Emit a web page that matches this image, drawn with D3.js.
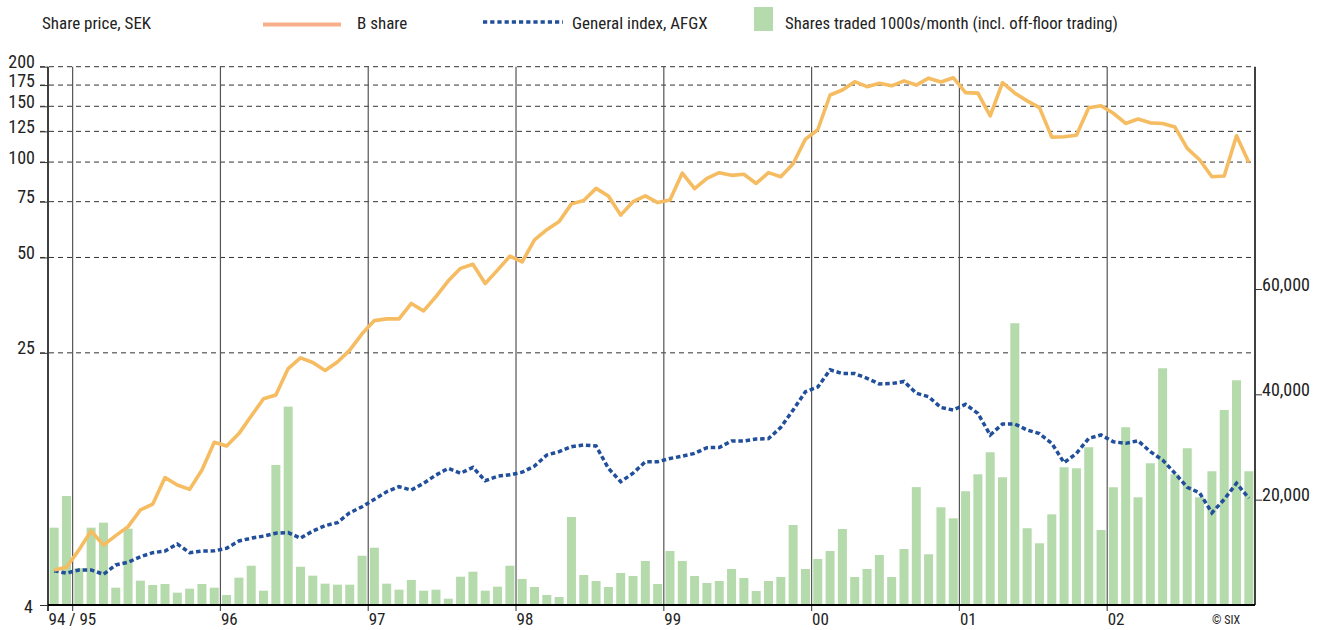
<!DOCTYPE html>
<html>
<head>
<meta charset="utf-8">
<script src="https://cdn.jsdelivr.net/npm/d3@7/dist/d3.min.js"></script>
<style>
  html, body { margin: 0; padding: 0; background: #fff; }
  svg { display: block; }
  text { font-family: "Liberation Sans Narrow", "Arial Narrow", "Roboto Condensed", "Liberation Sans", Arial, sans-serif; fill: #222; }
</style>
</head>
<body>
<svg id="chart" width="1325" height="630"></svg>
<script>
// ---------------- DATA ----------------
// Monthly observations, Nov 1994 .. Dec 2002
const firstMonth = new Date(1994, 10, 1);
const months = d3.timeMonths(firstMonth, new Date(2003, 0, 1));

// B share price, SEK (left log axis)
const bShare = [
  5.16, 5.26, 5.96, 6.85, 6.18, 6.62, 7.07, 7.98, 8.32, 10.1, 9.57, 9.27, 10.67, 13.05,
  12.7, 13.9, 15.8, 17.9, 18.4, 22.3, 24.1, 23.3, 22.0, 23.4, 25.5, 28.7,
  31.6, 32.0, 32.0, 35.8, 33.9, 37.6, 42.2, 46.2, 47.6, 41.4, 45.6, 50.5,
  48.4, 56.8, 61.2, 64.9, 73.8, 75.6, 82.6, 78.2, 68.0, 75.0, 78.2, 74.5,
  75.9, 92.3, 82.4, 88.9, 92.6, 90.8, 91.5, 85.6, 92.6, 89.9, 98.8, 118.2,
  126.5, 162.8, 168.8, 179.4, 173, 177.3, 174, 180.4, 175, 184, 179, 184.6,
  165.6, 165, 139.8, 178, 165, 156, 148.5, 119.9, 120.2, 121.6, 148.5, 150.6,
  142.6, 132.4, 136.8, 133, 132.4, 129, 110.5, 101.7, 89.9, 90.4, 121.1, 99.7
];

// General index, AFGX (rebased to the share price, left log axis)
const afgx = [
  5.13, 5.04, 5.16, 5.16, 5.0, 5.35, 5.46, 5.68, 5.85, 5.92, 6.23, 5.85, 5.92, 5.93,
  6.04, 6.37, 6.5, 6.6, 6.74, 6.77, 6.5, 6.85, 7.12, 7.28, 7.82, 8.17,
  8.62, 9.11, 9.45, 9.22, 9.69, 10.29, 10.8, 10.42, 10.88, 9.87, 10.2, 10.3,
  10.5, 10.98, 11.9, 12.19, 12.64, 12.8, 12.7, 10.8, 9.8, 10.42, 11.33, 11.33,
  11.6, 11.8, 12.04, 12.55, 12.57, 13.17, 13.17, 13.36, 13.4, 14.55, 16.5, 18.85,
  19.5, 22.1, 21.5, 21.5, 20.77, 19.94, 20.0, 20.3, 18.65, 18.17, 16.8, 16.5,
  17.2, 16.1, 13.76, 14.9, 14.9, 14.27, 13.9, 12.95, 11.25, 12.04, 13.43, 13.76,
  13.1, 12.95, 13.2, 12.19, 11.47, 10.42, 9.41, 9.04, 7.82, 8.62, 9.69, 8.69
];

// Shares traded, 1000s/month (right linear axis)
const traded = [
  14680, 20700, 6970, 14680, 15630, 3290, 14490, 4620, 3800, 3990, 2340, 3100, 3990, 3290,
  1900, 5190, 7460, 2720, 26590, 37660, 7270, 5570, 4050, 3860, 3860, 9360,
  10880, 4050, 2910, 4750, 2720, 2910, 1200, 5370, 6320, 2720, 3480, 7460,
  4940, 3420, 1900, 1520, 16710, 5700, 4560, 3420, 6080, 5510, 8360, 3990,
  10250, 8360, 5510, 4180, 4560, 6840, 5130, 2660, 4560, 5320, 15190, 6840,
  8740, 10250, 14430, 5320, 6840, 9500, 5320, 10630, 22380, 9630, 18550, 16460,
  21590, 24820, 29000, 24250, 53500, 14570, 11720, 17220, 26150, 25960, 29950, 14240,
  22350, 33750, 20450, 26910, 44950, 24820, 29760, 20450, 25390, 37030, 42670, 25390
];

const leftTicks = [4, 25, 50, 75, 100, 125, 150, 175, 200];
const gridValues = [25, 50, 75, 100, 125, 150, 175, 200];
const rightTicks = [20000, 40000, 60000];
const yearStarts = [1995, 1996, 1997, 1998, 1999, 2000, 2001, 2002];
const yearLabels = ["94 / 95", "96", "97", "98", "99", "00", "01", "02"];

const legendTitle = "Share price, SEK";
const legendB = "B share";
const legendIdx = "General index, AFGX";
const legendBars = "Shares traded 1000s/month (incl. off-floor trading)";
const credit = "\u00A9 SIX";

// ---------------- LAYOUT ----------------
const svg = d3.select("#chart");
const L = 48, R = 1255, T = 66.7, B = 605;

const colLine = "#F5BC62";
const colLegendLine = "#F7B08A";
const colIdx = "#214F9C";
const colBar = "#B5DAAB";

const xBand = d3.scaleBand().domain(d3.range(months.length)).range([L, R])
  .paddingInner(0.27).paddingOuter(0.135);
const xTime = d3.scaleLinear().domain([0, months.length]).range([L, R]);
const xc = i => xBand(i) + xBand.bandwidth() / 2;

const yLog = d3.scaleLog().domain([4, 200]).range([B, T]);
const yRight = d3.scaleLinear().domain([0, 60000]).range([B, B - 316]);

// index of January for each year
const monthIndex = y => months.findIndex(m => m.getFullYear() === y && m.getMonth() === 0);

// gridlines (dashed)
svg.append("g").selectAll("line").data(gridValues).join("line")
  .attr("x1", 40).attr("x2", R)
  .attr("y1", d => yLog(d)).attr("y2", d => yLog(d))
  .attr("stroke", "#333").attr("stroke-width", 1)
  .attr("stroke-dasharray", "5,4");

// bars
svg.append("g").selectAll("rect").data(traded).join("rect")
  .attr("x", (d, i) => xBand(i))
  .attr("width", xBand.bandwidth())
  .attr("y", d => yRight(d))
  .attr("height", d => B - yRight(d))
  .attr("fill", colBar);

// year lines
svg.append("g").selectAll("line").data(yearStarts).join("line")
  .attr("x1", d => xTime(monthIndex(d))).attr("x2", d => xTime(monthIndex(d)))
  .attr("y1", T).attr("y2", B + 6)
  .attr("stroke", "#555").attr("stroke-width", 1.2);

// AFGX dotted line
const lineGen = d3.line().x((d, i) => xc(i)).y(d => yLog(d));
svg.append("path").datum(afgx)
  .attr("d", lineGen)
  .attr("fill", "none").attr("stroke", colIdx)
  .attr("stroke-width", 3.5).attr("stroke-dasharray", "4.5,2.8");

// B share line
svg.append("path").datum(bShare)
  .attr("d", lineGen)
  .attr("fill", "none").attr("stroke", colLine)
  .attr("stroke-width", 3.6).attr("stroke-linejoin", "round");

// Left axis
const gLeft = svg.append("g").attr("transform", `translate(${L},0)`)
  .call(d3.axisLeft(yLog).tickValues(leftTicks).tickFormat(d3.format("d")).tickSize(8).tickPadding(5));
gLeft.select(".domain").attr("stroke", "#000").attr("stroke-width", 1.5).attr("d", `M0,${T}V${B + 6}`);
gLeft.selectAll(".tick line").attr("stroke", "#333");
gLeft.selectAll(".tick text").attr("dy", "0em").attr("y", 1)
  .style("font-size", "18px").attr("fill", "#222").attr("font-family", null);
gLeft.selectAll(".tick").filter(d => d === 4).select("text").attr("y", 7).attr("x", -15);

// Right axis
const gRight = svg.append("g").attr("transform", `translate(${R},0)`)
  .call(d3.axisRight(yRight).tickValues(rightTicks).tickFormat(d3.format(",")).tickSize(7).tickPadding(0));
gRight.select(".domain").attr("stroke", "#000").attr("stroke-width", 1.5).attr("d", `M0,${T}V${B}`);
gRight.selectAll(".tick line").attr("stroke", "#333");
gRight.selectAll(".tick text").attr("dy", "0em").attr("y", 1).attr("x", 7)
  .style("font-size", "18px").attr("fill", "#222").attr("font-family", null);

// Bottom axis
const gBottom = svg.append("g").attr("transform", `translate(0,${B})`)
  .call(d3.axisBottom(xTime).tickValues(yearStarts.map(monthIndex)).tickFormat((d, i) => yearLabels[i]).tickSize(0));
gBottom.select(".domain").attr("stroke", "#000").attr("stroke-width", 2).attr("d", `M${L},0H${R}`);
gBottom.selectAll(".tick text").attr("text-anchor", "start").attr("dy", "0em").attr("y", 20)
  .style("font-size", "17px").attr("fill", "#222").attr("font-family", null)
  .attr("x", (d, i) => i === 0 ? L - xTime(d) : 0);

// credit
svg.append("text").attr("x", 1212).attr("y", 624).style("font-size", "12px").attr("fill", "#333").text(credit);

// Legend
const lg = svg.append("g");
lg.append("text").attr("x", 42).attr("y", 29).style("font-size", "17px").text(legendTitle);
lg.append("line").attr("x1", 263).attr("x2", 341).attr("y1", 24.5).attr("y2", 24.5)
  .attr("stroke", colLegendLine).attr("stroke-width", 4);
lg.append("text").attr("x", 357).attr("y", 29).style("font-size", "17px").text(legendB);
lg.append("line").attr("x1", 483).attr("x2", 563).attr("y1", 22).attr("y2", 22)
  .attr("stroke", colIdx).attr("stroke-width", 3.5).attr("stroke-dasharray", "4.2,3");
lg.append("text").attr("x", 572).attr("y", 29).style("font-size", "17px").text(legendIdx);
lg.append("rect").attr("x", 754).attr("y", 7).attr("width", 19).attr("height", 24).attr("fill", colBar);
lg.append("text").attr("x", 785).attr("y", 29).style("font-size", "16.7px").text(legendBars);
</script>
</body>
</html>
